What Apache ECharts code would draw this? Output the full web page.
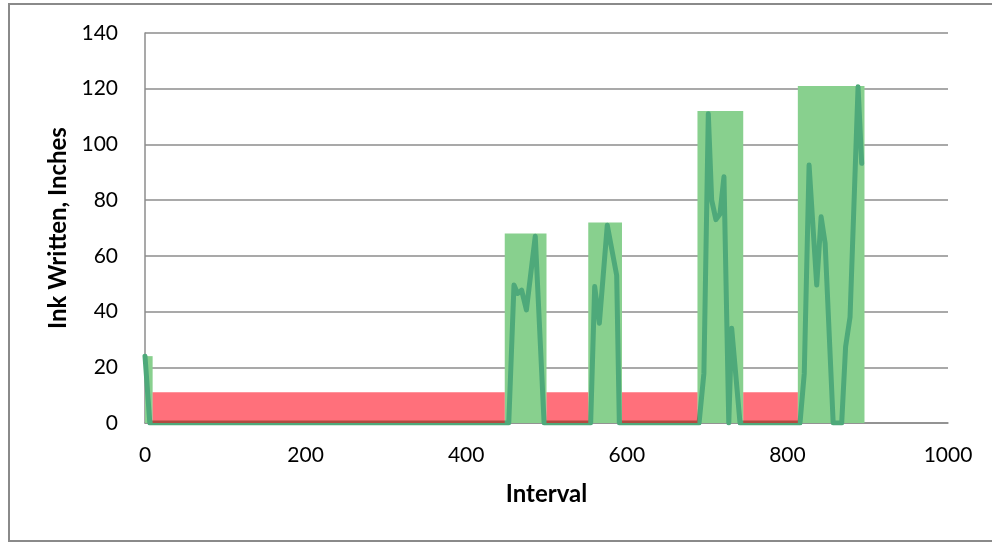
<!DOCTYPE html>
<html>
<head>
<meta charset="utf-8">
<script src="https://cdn.jsdelivr.net/npm/echarts@6/dist/echarts.min.js"></script>
<style>html,body{margin:0;padding:0;background:#fff}#c{width:992px;height:542px}</style>
</head>
<body>
<div id="c"></div>
<script>
// Green blocks: start, end, height
const greenStart = [0, 448, 552, 688, 813];
const greenEnd = [9.5, 500, 594, 745, 896];
const greenHeight = [24, 68, 72, 112, 121];
// Red blocks: start, end, height
const redStart = [9.5, 500, 594, 745];
const redEnd = [448, 552, 688, 813];
const redHeight = [11, 11, 11, 11];
// Ink line
const lineX = [0, 6, 453, 459.5, 464, 469, 475, 486, 497, 555, 560, 565.8, 575.7, 587.4, 590.7, 690, 696, 701.5, 705.7, 711, 716, 721, 727, 730.6, 741, 815.7, 821, 827, 836.5, 842, 847, 857, 867.6, 872.5, 878, 888, 892.5];
const lineY = [24, 0, 0, 49.5, 46.5, 47.7, 40.6, 67, 0, 0, 49, 35.8, 71, 53, 0, 0, 17.8, 111, 80, 73, 75, 88.4, 0, 34, 0, 0, 17.8, 92.6, 49.5, 74, 64.5, 0, 0, 27.4, 38, 120.7, 93.2];
// Axis ticks
const xTicks = [0, 200, 400, 600, 800, 1000];
const yTicks = [0, 20, 40, 60, 80, 100, 120, 140];

const FONT = 'Lato';
function rectSeries(starts, ends, heights, color, z) {
  return {
    type: 'custom',
    z: z,
    data: starts.map((s, i) => [s, ends[i], heights[i]]),
    encode: { x: [0, 1], y: 2 },
    renderItem: function (params, api) {
      const p0 = api.coord([api.value(0), 0]);
      const p1 = api.coord([api.value(1), api.value(2)]);
      return {
        type: 'rect',
        shape: { x: p0[0], y: p1[1], width: p1[0] - p0[0], height: p0[1] - p1[1] },
        style: { fill: color }
      };
    },
    silent: true
  };
}

const chart = echarts.init(document.getElementById('c'), null, { renderer: 'canvas' });
chart.setOption({
  animation: false,
  backgroundColor: '#fff',
  graphic: [{
    type: 'rect', z: -10, silent: true,
    shape: { x: 9, y: 4, width: 1000, height: 537 },
    style: { fill: 'none', stroke: '#8a8a8a', lineWidth: 2 }
  }],
  grid: { left: 145, right: 44, top: 33, bottom: 119, containLabel: false },
  xAxis: {
    type: 'value', min: xTicks[0], max: xTicks[xTicks.length - 1], interval: 200,
    name: 'Interval', nameLocation: 'middle', nameGap: 59,
    nameTextStyle: { fontFamily: FONT, fontWeight: 'bold', fontSize: 24, color: '#000' },
    axisLine: { show: true, lineStyle: { color: '#8c8c8c', width: 1.5 } },
    axisTick: { show: false },
    axisLabel: { fontFamily: FONT, fontSize: 21, color: '#000', margin: 22, formatter: v => String(v) },
    splitLine: { show: false }
  },
  yAxis: {
    type: 'value', min: yTicks[0], max: yTicks[yTicks.length - 1], interval: 20,
    name: 'Ink Written, Inches', nameLocation: 'middle', nameGap: 74,
    nameTextStyle: { fontFamily: FONT, fontWeight: 'bold', fontSize: 24, color: '#000' },
    axisLine: { show: true, lineStyle: { color: '#8c8c8c', width: 1.5 } },
    axisTick: { show: false },
    axisLabel: { fontFamily: FONT, fontSize: 21, color: '#000', margin: 27, formatter: v => String(v) },
    splitLine: { show: true, lineStyle: { color: '#8c8c8c', width: 1.5 } }
  },
  series: [
    rectSeries(greenStart, greenEnd, greenHeight, '#88d08e', 1),
    {
      type: 'line', z: 2,
      data: lineX.map((x, i) => [x, lineY[i]]),
      showSymbol: false, symbol: 'none',
      lineStyle: { color: '#4ea97a', width: 5, join: 'round', cap: 'round' },
      silent: true
    },
    rectSeries(redStart, redEnd, redHeight, 'rgba(255,0,20,0.56)', 3)
  ]
});
</script>
</body>
</html>
